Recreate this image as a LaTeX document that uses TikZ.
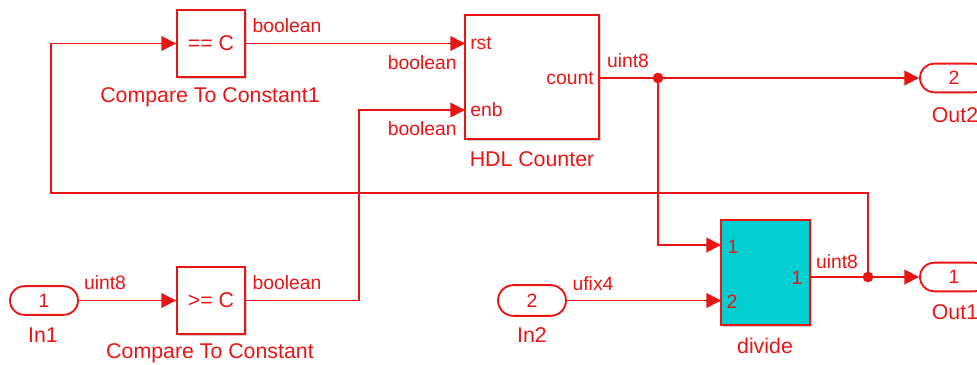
\documentclass[tikz,border=0pt]{standalone}
\usepackage{fontspec}
\setmainfont{Liberation Sans}
\usetikzlibrary{arrows.meta,shapes.misc,shadows,calc}
\definecolor{sred}{RGB}{235,20,20}
\definecolor{scyan}{RGB}{0,206,209}
\begin{document}
\begin{tikzpicture}[x=0.75pt,y=-0.75pt,
  sred,
  blk/.style={draw=sred, fill=white, line width=1.4pt, rectangle, inner sep=0pt,
    drop shadow={shadow xshift=1.2pt, shadow yshift=-1.2pt, opacity=0.3, fill=black!60}},
  iop/.style={draw=sred, fill=white, line width=1.4pt, rounded rectangle, inner sep=0pt,
    minimum width=51pt, minimum height=21.5pt, font=\fontsize{14.5}{17}\selectfont},
  big/.style={font=\fontsize{16}{19}\selectfont, text=sred, inner sep=0pt},
  sml/.style={font=\fontsize{14.5}{17}\selectfont, text=sred, inner sep=0pt},
  wire/.style={draw=sred, line width=1.3pt},
  arr/.style={wire, -{Triangle[length=11pt,width=11pt]}},
  jdot/.style={circle, fill=sred, inner sep=0pt, minimum size=8pt}
]
\useasboundingbox (0,0) rectangle (977,364);
\clip (0,0) rectangle (977,364);

% blocks
\node[blk, minimum width=51pt, minimum height=50.25pt, font=\fontsize{16}{19}\selectfont] (cc1) at (211,43.5) {== C};
\node[blk, minimum width=51pt, minimum height=50.25pt, font=\fontsize{16}{19}\selectfont] (cc) at (211,300.5) {>= C};
\node[blk, minimum width=100.5pt, minimum height=93pt] (hdl) at (532,77) {};
\node[blk, fill=scyan, minimum width=66.75pt, minimum height=78.75pt] (div) at (765.5,272.5) {};
\node[iop] (in1) at (44,300.5) {1};
\node[iop, minimum height=23pt] (in2) at (532,300.5) {2};
\node[iop] (out2) at (954,78) {2};
\node[iop] (out1) at (954,277) {1};

% port coordinates
\coordinate (hrst) at (465,43.5);
\coordinate (henb) at (465,110);
\coordinate (hcnt) at (599,78);
\coordinate (d1) at (721,245);
\coordinate (d2) at (721,300.5);
\coordinate (dout) at (810,277);
\coordinate (j1) at (658,78);
\coordinate (j2) at (868,277);
\coordinate (v1) at (359,110);
\coordinate (fb1) at (868,193);
\coordinate (fb2) at (51,193);
\coordinate (fb3) at (51,43.5);

% wires
\draw[arr] (cc1.east) -- (hrst);
\draw[arr] (cc.east) -| (v1) -- (henb);
\draw[arr] (hcnt) -- (out2.west);
\draw[arr] (j1) |- (d1);
\draw[arr] (in1.east) -- (cc.west);
\draw[arr] (in2.east) -- (d2);
\draw[arr] (dout) -- (out1.west);
\draw[arr] (j2) -- (fb1) -- (fb2) -- (fb3) -- (cc1.west);
\node[jdot] at (j1) {};
\node[jdot] at (j2) {};

% port labels
\node[sml, anchor=west] at (470,43.5) {rst};
\node[sml, anchor=west] at (470,110) {enb};
\node[sml, anchor=east] at (594,78) {count};
\node[sml] at (733,247) {1};
\node[sml] at (732,302) {2};
\node[sml] at (797,278) {1};

% signal labels
\node[sml] at (287,26) {boolean};
\node[sml, anchor=east] at (457,63) {boolean};
\node[sml, anchor=east] at (457,129) {boolean};
\node[sml] at (628,61) {uint8};
\node[sml] at (105,283) {uint8};
\node[sml] at (287,283) {boolean};
\node[sml] at (593,284) {ufix4};
\node[sml] at (837,262) {uint8};

% block names
\node[big] at (210,97) {Compare To Constant1};
\node[big] at (532,159) {HDL Counter};
\node[big] at (210,353) {Compare To Constant};
\node[big] at (43,335) {In1};
\node[big] at (532,335) {In2};
\node[big] at (765,346) {divide};
\node[big] at (955,115) {Out2};
\node[big] at (955,312) {Out1};
\end{tikzpicture}
\end{document}
